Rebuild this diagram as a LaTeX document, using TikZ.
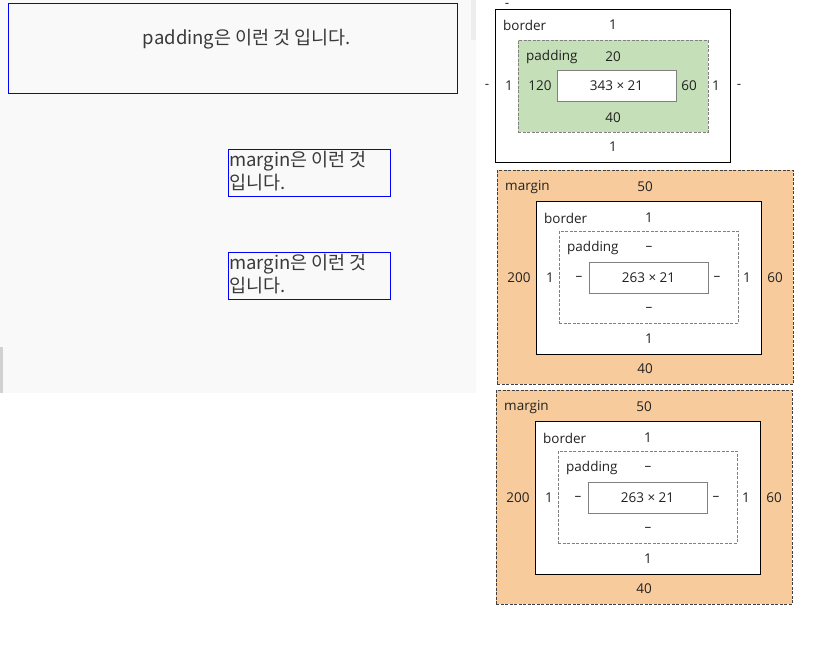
\documentclass[tikz,border=0pt]{standalone}
\usepackage{fontspec}
\setmainfont{Open Sans}
\newfontfamily\kr{Noto Sans CJK KR}
\definecolor{pagebg}{HTML}{F9F9F9}
\definecolor{frameblue}{HTML}{0000FF}
\definecolor{padgreen}{HTML}{C5DFB8}
\definecolor{marorange}{HTML}{F8CB9C}
\definecolor{txtgray}{HTML}{3A3A3A}
\definecolor{lblcol}{HTML}{222222}
\tikzset{
  box/.style={inner sep=0pt, outer sep=0pt, anchor=north west},
  blueframe/.style={box, draw=frameblue, line width=0.9pt},
  marginbox/.style={box, draw=black!75, fill=marorange, dashed, dash pattern=on 3pt off 1.5pt, line width=0.7pt},
  borderbox/.style={box, draw=black, fill=white, line width=0.9pt},
  paddingbox/.style={box, draw=black!50, dashed, dash pattern=on 3pt off 1.5pt, line width=0.7pt},
  contentbox/.style={box, draw=black!50, fill=white, line width=0.9pt},
  lbl/.style={inner sep=0pt, text=lblcol, font=\fontsize{13.5}{15}\selectfont},
  lblw/.style={lbl, anchor=west},
  krtext/.style={inner sep=0pt, text=txtgray, font=\kr\fontsize{18.5}{23}\selectfont}
}
\begin{document}
\begin{tikzpicture}[x=1pt, y=-1pt]
\useasboundingbox (0,0) rectangle (824,653);
% page area
\fill[pagebg] (0,0) rectangle (476,393);
\fill[black!18] (0,347) rectangle (3,393);
\fill[black!7] (471,0) rectangle (476,40);
% blue frames
\node[blueframe, minimum width=449pt, minimum height=90pt] (b1) at (8,3) {};
\node[krtext] (t1) at (247,39) {padding은 이런 것 입니다.};
\node[blueframe, minimum width=162pt, minimum height=47pt] (b2) at (228,149) {};
\node[krtext, anchor=north west, align=left] (t2) at (229,151) {margin은 이런 것\\입니다.};
\node[blueframe, minimum width=162pt, minimum height=47pt] (b3) at (228,252) {};
\node[krtext, anchor=north west, align=left] (t3) at (229,254) {margin은 이런 것\\입니다.};
% panel 1
\node[lbl] (p1top) at (507,5) {-};
\node[borderbox, minimum width=235pt, minimum height=153pt] (br1) at (495,9) {};
\node[box, fill=padgreen, draw=black!50, dashed, dash pattern=on 3pt off 1.5pt, line width=0.7pt, minimum width=190pt, minimum height=92pt] (pd1) at (518,40) {};
\node[contentbox, minimum width=119pt, minimum height=31pt] (c1) at (557,70) {};
\node[lbl] at (c1.center) {343 × 21};
\node[lblw] (lb1) at (503,25) {border};
\node[lbl] (bt1) at (613,25) {1};
\node[lblw] (lp1) at (526,57) {padding};
\node[lbl] (pt1) at (613,57) {20};
\node[lbl] (pl1) at (540,86) {120};
\node[lbl] (pr1) at (689,86) {60};
\node[lbl] (bl1) at (509,86) {1};
\node[lbl] (brr1) at (716,86) {1};
\node[lbl] (ml1) at (487,86) {-};
\node[lbl] (mr1) at (739,86) {-};
\node[lbl] (pb1) at (613,118) {40};
\node[lbl] (bb1) at (613,147) {1};
% panel 2
\begin{scope}[shift={(0,0)}]
\node[marginbox, minimum width=296pt, minimum height=214pt] (m2) at (497,170) {};
\node[borderbox, minimum width=225pt, minimum height=153pt] (br2) at (536,201) {};
\node[paddingbox, minimum width=179pt, minimum height=92pt] (pd2) at (559,231) {};
\node[contentbox, minimum width=119pt, minimum height=31pt] (c2) at (589,262) {};
\node[lbl] at (c2.center) {263 × 21};
\node[lblw] (lm2) at (505,187) {margin};
\node[lbl] (mt2) at (645,187) {50};
\node[lblw] (lb2) at (544,218) {border};
\node[lbl] (bt2) at (649,218) {1};
\node[lblw] (lp2) at (567,248) {padding};
\node[lbl] (pt2) at (649,248) {–};
\node[lbl] (pl2) at (579,278) {–};
\node[lbl] (pr2) at (717,278) {–};
\node[lbl] (bl2) at (550,278) {1};
\node[lbl] (brr2) at (747,278) {1};
\node[lbl] (ml2) at (519,278) {200};
\node[lbl] (mr2) at (775,278) {60};
\node[lbl] (pb2) at (649,309) {–};
\node[lbl] (bb2) at (649,339) {1};
\node[lbl] (mb2) at (645,369) {40};
\end{scope}
% panel 3
\begin{scope}[shift={(-1,220)}]
\node[marginbox, minimum width=296pt, minimum height=214pt] (m3) at (497,170) {};
\node[borderbox, minimum width=225pt, minimum height=153pt] (br3) at (536,201) {};
\node[paddingbox, minimum width=179pt, minimum height=92pt] (pd3) at (559,231) {};
\node[contentbox, minimum width=119pt, minimum height=31pt] (c3) at (589,262) {};
\node[lbl] at (c3.center) {263 × 21};
\node[lblw] (lm3) at (505,187) {margin};
\node[lbl] (mt3) at (645,187) {50};
\node[lblw] (lb3) at (544,218) {border};
\node[lbl] (bt3) at (649,218) {1};
\node[lblw] (lp3) at (567,248) {padding};
\node[lbl] (pt3) at (649,248) {–};
\node[lbl] (pl3) at (579,278) {–};
\node[lbl] (pr3) at (717,278) {–};
\node[lbl] (bl3) at (550,278) {1};
\node[lbl] (brr3) at (747,278) {1};
\node[lbl] (ml3) at (519,278) {200};
\node[lbl] (mr3) at (775,278) {60};
\node[lbl] (pb3) at (649,309) {–};
\node[lbl] (bb3) at (649,339) {1};
\node[lbl] (mb3) at (645,369) {40};
\end{scope}
\end{tikzpicture}
\end{document}
